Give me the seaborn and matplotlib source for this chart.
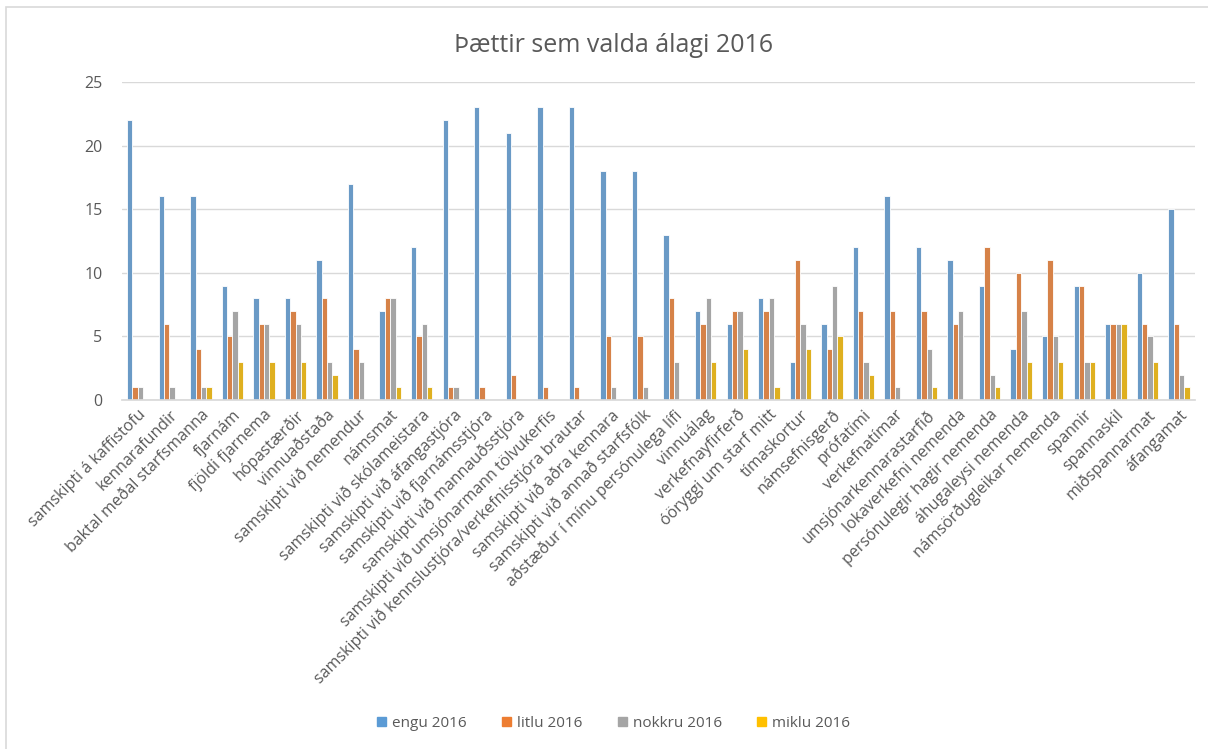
import pandas as pd
import matplotlib.pyplot as plt
import matplotlib.patches as mpatches
import seaborn as sns

# categories (x axis)
thaettir = [
    "samskipti á kaffistofu", "kennarafundir", "baktal meðal starfsmanna",
    "fjarnám", "fjöldi fjarnema", "hópastærðir", "vinnuaðstaða",
    "samskipti við nemendur", "námsmat", "samskipti við skólameistara",
    "samskipti við áfangastjóra", "samskipti við fjarnámsstjóra",
    "samskipti við mannauðsstjóra", "samskipti við umsjónarmann tölvukerfis",
    "samskipti við kennslustjóra/verkefnisstjóra brautar",
    "samskipti við aðra kennara", "samskipti við annað starfsfólk",
    "aðstæður í mínu persónulega lífi", "vinnuálag", "verkefnayfirferð",
    "óöryggi um starf mitt", "tímaskortur", "námsefnisgerð", "prófatími",
    "verkefnatímar", "umsjónarkennarastarfið", "lokaverkefni nemenda",
    "persónulegir hagir nemenda", "áhugaleysi nemenda",
    "námsörðugleikar nemenda", "spannir", "spannaskil", "miðspannarmat",
    "áfangamat",
]

engu = [22, 16, 16, 9, 8, 8, 11, 17, 7, 12, 22, 23, 21, 23, 23, 18, 18, 13,
        7, 6, 8, 3, 6, 12, 16, 12, 11, 9, 4, 5, 9, 6, 10, 15]
litlu = [1, 6, 4, 5, 6, 7, 8, 4, 8, 5, 1, 1, 2, 1, 1, 5, 5, 8,
         6, 7, 7, 11, 4, 7, 7, 7, 6, 12, 10, 11, 9, 6, 6, 6]
nokkru = [1, 1, 1, 7, 6, 6, 3, 3, 8, 6, 1, 0, 0, 0, 0, 1, 1, 3,
          8, 7, 8, 6, 9, 3, 1, 4, 7, 2, 7, 5, 3, 6, 5, 2]
miklu = [0, 0, 1, 3, 3, 3, 2, 0, 1, 1, 0, 0, 0, 0, 0, 0, 0, 0,
         3, 4, 1, 4, 5, 2, 0, 1, 0, 1, 3, 3, 3, 6, 3, 1]

series_names = ["engu 2016", "litlu 2016", "nokkru 2016", "miklu 2016"]
colors = ["#5B9BD5", "#ED7D31", "#A5A5A5", "#FFC000"]

# long-form table for seaborn
rows = []
for name, vals in zip(series_names, [engu, litlu, nokkru, miklu]):
    for cat, v in zip(thaettir, vals):
        rows.append({"þáttur": cat, "fjöldi": v, "röð": name})
df = pd.DataFrame(rows)

sns.set_theme(style="white")
plt.rcParams["font.family"] = ["Open Sans", "DejaVu Sans"]
txt = "#595959"

fig = plt.figure(figsize=(12.08, 7.49), dpi=100)
ax = fig.add_axes([0.101, 0.466, 0.888, 0.4245])

sns.barplot(data=df, x="þáttur", y="fjöldi", hue="röð", order=thaettir,
            hue_order=series_names, palette=colors, width=0.68,
            edgecolor="white", linewidth=0.6, ax=ax)

ax.set_ylim(0, 25)
ax.set_yticks([0, 5, 10, 15, 20, 25])
ax.set_xlim(-0.5, 33.5)
ax.yaxis.grid(True, color="#D9D9D9", linewidth=1)
ax.set_axisbelow(True)
for s in ["top", "right", "left"]:
    ax.spines[s].set_visible(False)
ax.spines["bottom"].set_color("#D9D9D9")
ax.set_xlabel("")
ax.set_ylabel("")
ax.tick_params(axis="y", length=0, pad=14, labelsize=11.5, labelcolor=txt)
ax.tick_params(axis="x", length=0, pad=5, labelsize=11.5, labelcolor=txt)
plt.setp(ax.get_xticklabels(), rotation=45, ha="right", rotation_mode="anchor")

fig.text(0.508, 1 - 45 / 749, "Þættir sem valda álagi 2016", ha="center",
         va="center", fontsize=18, color=txt)

ax.legend_.remove()
handles = [mpatches.Patch(color=c, label=n) for c, n in zip(colors, series_names)]
fig.legend(handles=handles, loc="center", bbox_to_anchor=(0.508, 0.034), ncol=4,
           frameon=False, fontsize=11, labelcolor=txt, handlelength=0.6,
           handleheight=0.6, handletextpad=0.4, columnspacing=2.3)

# chart area border
fig.add_artist(mpatches.Rectangle((6 / 1208, -0.05), 1.2, 1 - 7 / 749 + 0.05,
                                  transform=fig.transFigure, fill=False,
                                  edgecolor="#D9D9D9", linewidth=1.2))

fig.savefig("out.png", dpi=100)
